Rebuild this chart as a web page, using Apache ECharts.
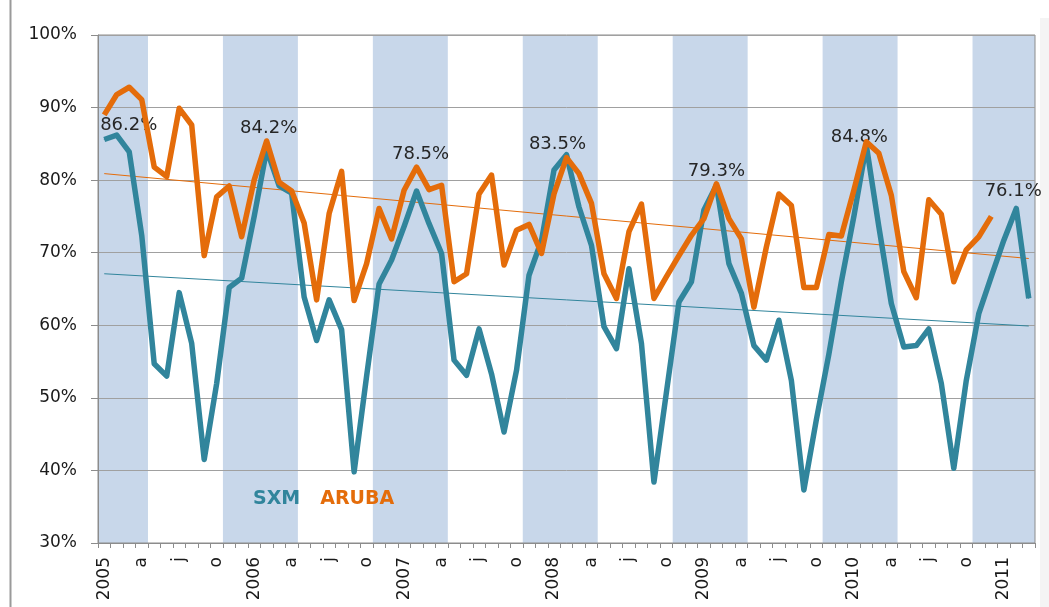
<!DOCTYPE html>
<html>
<head>
<meta charset="utf-8">
<script src="https://cdn.jsdelivr.net/npm/echarts@6/dist/echarts.min.js"></script>
<style>
html,body{margin:0;padding:0;background:#ffffff;}
#c{width:1049px;height:607px;}
</style>
</head>
<body>
<div id="c"></div>
<script>
// ---------- data ----------
const startYear = 2005;
const monthCount = 75; // Jan 2005 .. Mar 2011
const monthInitials = ['', 'f', 'm', 'a', 'm', 'j', 'j', 'a', 's', 'o', 'n', 'd'];

const sxm = [
  85.6, 86.2, 83.9, 72.4, 54.7, 53.0, 64.5, 57.5, 41.5, 52.0, 65.2, 66.5,
  75.0, 84.2, 79.2, 78.2, 63.9, 57.9, 63.5, 59.4, 39.8, 53.0, 65.7, 69.0,
  73.6, 78.5, 74.0, 69.9, 55.2, 53.1, 59.5, 53.3, 45.3, 53.8, 66.9, 71.7,
  81.4, 83.5, 76.3, 71.0, 59.8, 56.8, 67.8, 57.5, 38.4, 50.8, 63.2, 66.0,
  75.9, 79.3, 68.5, 64.4, 57.2, 55.2, 60.7, 52.4, 37.3, 47.0, 56.0, 66.0,
  75.0, 84.8, 73.6, 63.0, 57.0, 57.2, 59.5, 52.0, 40.3, 52.4, 61.6, 66.7,
  71.7, 76.1, 63.7
];

const aruba = [
  89.0, 91.8, 92.8, 91.1, 81.8, 80.5, 89.9, 87.6, 69.6, 77.7, 79.2, 72.2,
  80.0, 85.4, 79.7, 78.5, 74.1, 63.5, 75.4, 81.2, 63.4, 68.5, 76.1, 71.9,
  78.6, 81.8, 78.7, 79.3, 66.0, 67.1, 78.1, 80.7, 68.3, 73.1, 73.9, 69.9,
  78.1, 83.1, 80.9, 76.8, 67.1, 63.7, 72.9, 76.7, 63.7, 66.7, 69.6, 72.4,
  74.7, 79.5, 74.7, 71.9, 62.5, 70.8, 78.1, 76.5, 65.2, 65.2, 72.5, 72.3,
  78.6, 85.3, 83.7, 77.9, 67.4, 63.8, 77.3, 75.3, 66.0, 70.4, 72.2, 75.0
];

// trend lines: value at first and last month
const trendSxm = [67.1, 59.9];
const trendAruba = [80.9, 69.2];

// months carrying a value label on SXM
const labelledMonths = ['2005-02', '2006-02', '2007-02', '2008-02', '2009-02', '2010-02', '2011-02'];

// shaded high seasons (first month, last month)
const highSeasons = [
  ['2005-01', '2005-04'], ['2005-11', '2006-04'], ['2006-11', '2007-04'],
  ['2007-11', '2008-04'], ['2008-11', '2009-04'], ['2009-11', '2010-04'],
  ['2010-11', '2011-03']
];

const yTicks = { min: 30, max: 100, interval: 10 };

// ---------- build ----------
const categories = [];
for (let i = 0; i < monthCount; i++) {
  const y = startYear + Math.floor(i / 12);
  const m = (i % 12) + 1;
  categories.push(y + '-' + (m < 10 ? '0' + m : m));
}

const TEAL = '#31859c';
const ORANGE = '#e46c0a';

const seasonAreas = highSeasons.map(s => [
  { xAxis: categories.indexOf(s[0]) },
  { xAxis: categories.indexOf(s[1]) + 1 }
]);

const labelOffsets = {
  '2005-02': [12, 10], '2006-02': [2, -2], '2007-02': [4, -17], '2008-02': [-9, 9],
  '2009-02': [0, 6], '2010-02': [-7, 12], '2011-02': [-3, 2]
};

const sxmData = sxm.map((v, i) => {
  const c = categories[i];
  if (labelledMonths.indexOf(c) >= 0) {
    return {
      value: v,
      label: {
        show: true, position: 'top', distance: 10, offset: labelOffsets[c] || [0, 0],
        formatter: p => p.value.toFixed(1) + '%',
        fontFamily: 'DejaVu Sans', fontSize: 18, color: '#262626'
      }
    };
  }
  return v;
});

const chart = echarts.init(document.getElementById('c'), null, { renderer: 'canvas' });
chart.setOption({
  animation: false,
  backgroundColor: '#ffffff',
  grid: { left: 98, right: 14, top: 35, bottom: 64, show: true, borderColor: '#8c8c8c', borderWidth: 1, z: 2 },
  graphic: [
    { type: 'line', shape: { x1: 10.5, y1: 0, x2: 10.5, y2: 607 }, style: { stroke: '#9a9a9a', lineWidth: 2 }, silent: true },
    { type: 'rect', shape: { x: 1040, y: 18, width: 9, height: 589 }, style: { fill: '#f4f4f4' }, silent: true }
  ],
  legend: {
    data: [
      { name: 'SXM', textStyle: { color: TEAL } },
      { name: 'ARUBA', textStyle: { color: ORANGE } }
    ],
    left: 243, top: 485,
    itemWidth: 0, itemHeight: 0, itemGap: 15,
    icon: 'rect',
    textStyle: { fontFamily: 'DejaVu Sans', fontWeight: 'bold', fontSize: 19 },
    selectedMode: false
  },
  xAxis: [{
    type: 'category',
    data: categories,
    boundaryGap: true,
    z: 2,
    axisLine: { lineStyle: { color: '#8c8c8c', width: 1 } },
    axisTick: { show: true, interval: 0, length: 5, lineStyle: { color: '#8c8c8c' } },
    axisLabel: {
      interval: 2, rotate: 90, margin: 14,
      fontFamily: 'DejaVu Sans', fontSize: 17, color: '#1a1a1a',
      formatter: (val, idx) => {
        const m = idx % 12;
        return m === 0 ? val.slice(0, 4) : monthInitials[m];
      }
    },
    splitLine: { show: false }
  }, {
    type: 'value', min: 0, max: monthCount, show: false
  }],
  yAxis: [{
    type: 'value', min: yTicks.min, max: yTicks.max, interval: yTicks.interval,
    z: 2,
    axisLine: { show: true, lineStyle: { color: '#8c8c8c' } },
    axisTick: { show: true, length: 7, lineStyle: { color: '#8c8c8c' } },
    axisLabel: { margin: 21, fontFamily: 'DejaVu Sans', fontSize: 17, color: '#1a1a1a', formatter: v => v + '%' },
    splitLine: { show: true, lineStyle: { color: '#a0a0a0', width: 1 } }
  }, {
    type: 'value', min: 0, max: 1, show: false
  }],
  series: [
    {
      name: 'season', type: 'line', xAxisIndex: 1, yAxisIndex: 1, data: [],
      silent: true, z: 0,
      markArea: { silent: true, z: 0, itemStyle: { color: '#c8d7ea' }, data: seasonAreas }
    },
    {
      name: 'SXM trend', type: 'line', symbol: 'none', silent: true, z: 3,
      data: [[categories[0], trendSxm[0]], [categories[monthCount - 1], trendSxm[1]]],
      lineStyle: { color: TEAL, width: 1 }
    },
    {
      name: 'ARUBA trend', type: 'line', symbol: 'none', silent: true, z: 3,
      data: [[categories[0], trendAruba[0]], [categories[monthCount - 1], trendAruba[1]]],
      lineStyle: { color: ORANGE, width: 1 }
    },
    {
      name: 'SXM', type: 'line', data: sxmData, z: 4,
      symbol: 'circle', symbolSize: 1, showSymbol: true, showAllSymbol: true,
      color: TEAL, itemStyle: { color: TEAL },
      lineStyle: { color: TEAL, width: 5.5, join: 'round' }
    },
    {
      name: 'ARUBA', type: 'line', data: aruba, symbol: 'none', z: 5,
      color: ORANGE,
      lineStyle: { color: ORANGE, width: 5.5, join: 'round' }
    }
  ]
});
</script>
</body>
</html>
